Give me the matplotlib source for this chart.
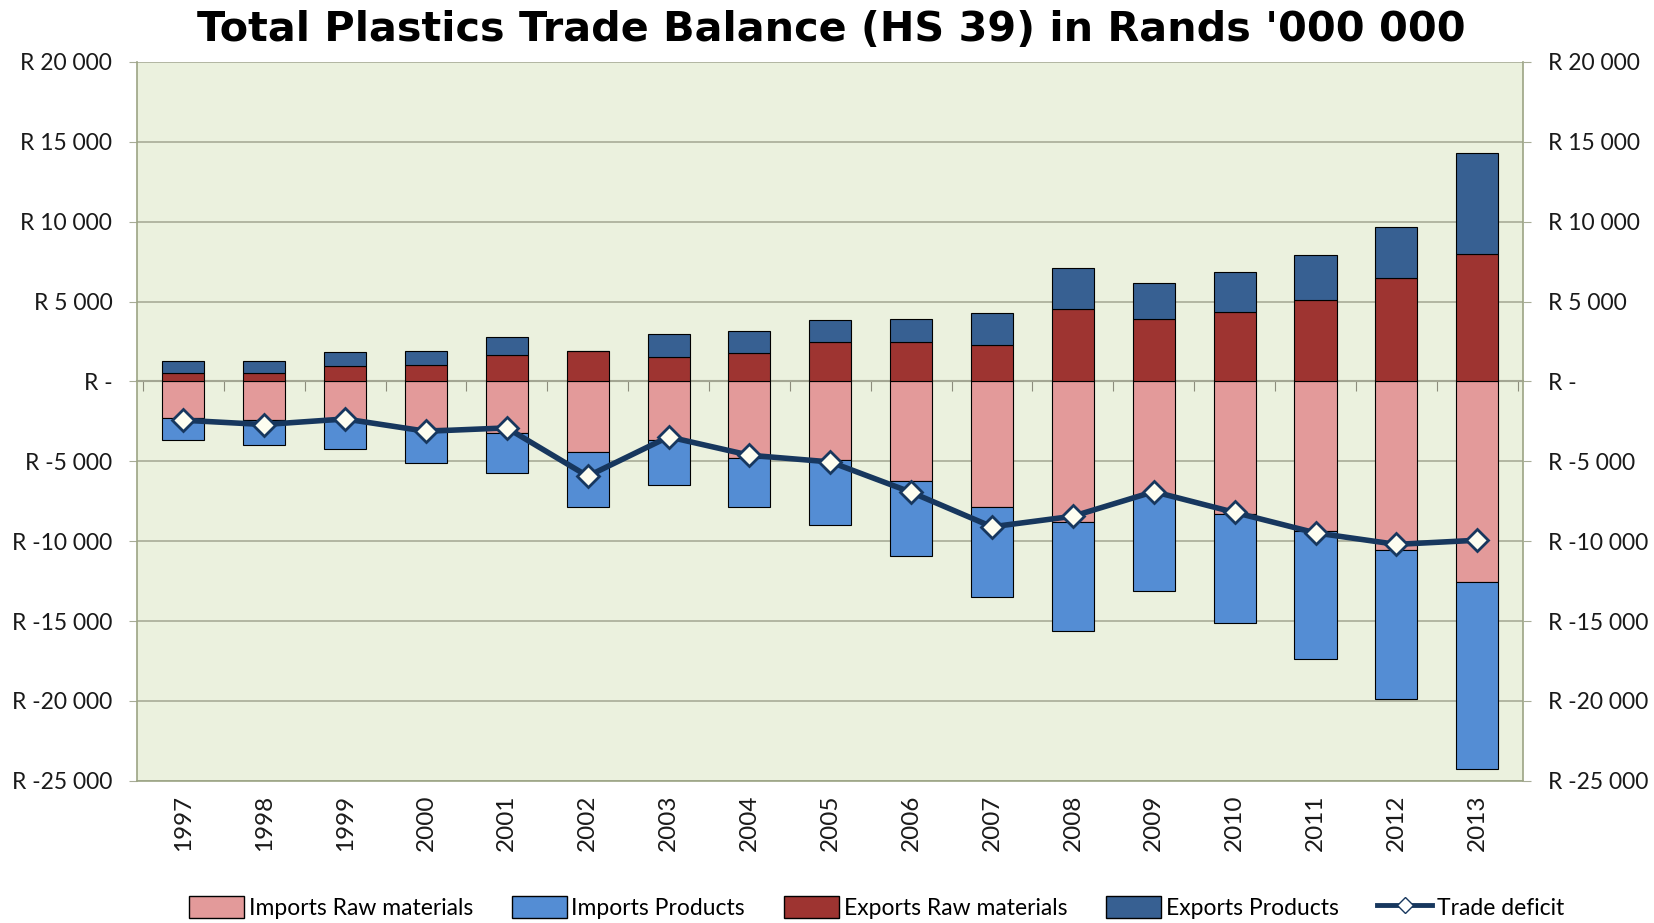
import numpy as np
import matplotlib
matplotlib.use("Agg")
import matplotlib.pyplot as plt
from matplotlib.patches import Patch
from matplotlib.lines import Line2D
from matplotlib.ticker import FixedLocator, FuncFormatter

years = [str(y) for y in range(1997, 2014)]

# values in R million
imports_raw = [-2290, -2390, -2490, -2910, -3220, -4430, -3640, -4780, -4950,
               -6230, -7850, -8790, -7100, -8270, -9350, -10560, -12540]
imports_products = [-1390, -1600, -1710, -2200, -2500, -3410, -2850, -3060, -4050,
                    -4670, -5630, -6810, -6000, -6830, -8050, -9340, -11710]
exports_raw = [540, 540, 960, 1050, 1630, 1920, 1550, 1790, 2450,
               2440, 2300, 4510, 3880, 4340, 5110, 6470, 7970]
exports_products = [720, 720, 880, 870, 1170, 0, 1420, 1390, 1390,
                    1480, 1980, 2590, 2280, 2490, 2820, 3180, 6330]
trade_deficit = [-2430, -2700, -2350, -3120, -2910, -5930, -3470, -4620, -5040,
                 -6940, -9100, -8440, -6900, -8200, -9480, -10200, -9940]

c_imp_raw = "#E39A9A"
c_imp_prod = "#548DD4"
c_exp_raw = "#9E3431"
c_exp_prod = "#376092"
c_line = "#17375E"
bg = "#EBF1DE"
grid_c = "#A8AC98"

plt.rcParams['font.family'] = ['Lato', 'DejaVu Sans']

fig = plt.figure(figsize=(16.54, 9.23), dpi=100)
ax = fig.add_axes([0.083, 0.154, 0.838, 0.779])
ax.set_facecolor(bg)

x = np.arange(len(years))
w = 0.52
ax.bar(x, imports_raw, w, color=c_imp_raw, edgecolor="black", linewidth=0.8, zorder=3)
ax.bar(x, imports_products, w, bottom=imports_raw, color=c_imp_prod,
       edgecolor="black", linewidth=0.8, zorder=3)
ax.bar(x, exports_raw, w, color=c_exp_raw, edgecolor="black", linewidth=0.8, zorder=3)
ax.bar(x, exports_products, w, bottom=exports_raw, color=c_exp_prod,
       edgecolor="black", linewidth=0.8, zorder=3)
ax.plot(x, trade_deficit, color=c_line, lw=4, marker="D", markersize=11,
        markerfacecolor="#FDFDF0", markeredgecolor=c_line, markeredgewidth=2, zorder=5)

ymin, ymax = -25000, 20000
ax.set_ylim(ymin, ymax)
ax.set_xlim(-0.57, len(years) - 0.43)
ax.yaxis.set_major_locator(FixedLocator(np.arange(ymin, ymax + 1, 5000)))


def rand_fmt(v, pos):
    if v == 0:
        return "R -"
    s = f"{abs(int(v)):,}".replace(",", " ")
    return ("R -" if v < 0 else "R ") + s


ax.yaxis.set_major_formatter(FuncFormatter(rand_fmt))
ax.grid(axis="y", color=grid_c, lw=1.2, zorder=0)
ax.tick_params(axis="y", labelsize=16.5, length=6, color=grid_c, pad=12,
               labelcolor="#1a1a1a")
ax.set_xticks(x)
ax.set_xticklabels(years, rotation=90, fontsize=17.5, color="#1a1a1a")
ax.tick_params(axis="x", length=0, pad=10)

for s in ax.spines.values():
    s.set_color("#9CA484")
    s.set_linewidth(1.2)
ax.spines["top"].set_visible(False)

# category axis crossing at zero with small tick marks between categories
zero_frac = (0 - ymin) / (ymax - ymin)
sec = ax.secondary_xaxis(zero_frac)
sec.set_xticks(np.arange(len(years) + 1) - 0.5)
sec.tick_params(axis="x", direction="out", length=7, color="#8C8C7C",
                labelbottom=False, labeltop=False, top=False, bottom=True)
for side in ("bottom", "top"):
    sec.spines[side].set_color("#8C8C7C")
    sec.spines[side].set_linewidth(1.5)
sec.set_xticklabels([])

ax2 = ax.twinx()
ax2.set_ylim(ymin, ymax)
ax2.yaxis.set_major_locator(FixedLocator(np.arange(ymin, ymax + 1, 5000)))
ax2.yaxis.set_major_formatter(FuncFormatter(rand_fmt))
ax2.tick_params(axis="y", labelsize=16.5, length=6, color=grid_c, pad=12,
                labelcolor="#1a1a1a")
for s in ax2.spines.values():
    s.set_visible(False)

fig.text(0.5025, 0.967, "Total Plastics Trade Balance (HS 39) in Rands '000 000",
         ha="center", va="center", fontsize=29.8, fontweight="bold",
         family=["DejaVu Sans"])

handles = [
    Patch(facecolor=c_imp_raw, edgecolor="black", label="Imports Raw materials"),
    Patch(facecolor=c_imp_prod, edgecolor="black", label="Imports Products"),
    Patch(facecolor=c_exp_raw, edgecolor="black", label="Exports Raw materials"),
    Patch(facecolor=c_exp_prod, edgecolor="black", label="Exports Products"),
    Line2D([], [], color=c_line, lw=3.5, marker="D", markersize=8,
           markerfacecolor="white", markeredgecolor=c_line, label="Trade deficit"),
]
fig.legend(handles=handles, loc="center", bbox_to_anchor=(0.53, 0.017), ncol=5,
           frameon=False, fontsize=16.5, handlelength=2.4, handleheight=1.1,
           columnspacing=1.7, handletextpad=0.2)

fig.savefig("out.png", dpi=100)
